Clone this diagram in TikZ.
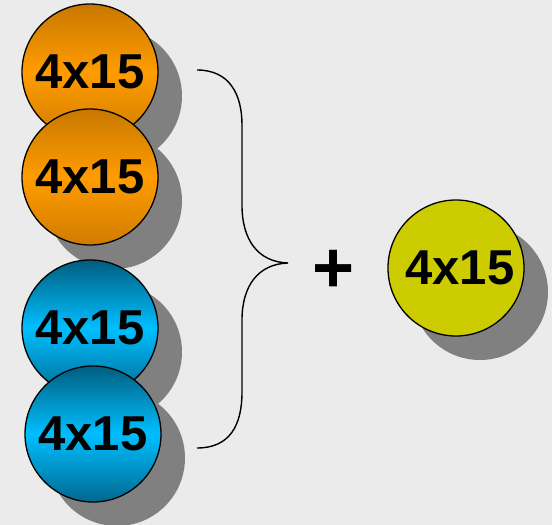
\documentclass[tikz,border=0pt]{standalone}
\usepackage{fontspec}
\setmainfont{Liberation Sans}
\usetikzlibrary{shadows}
\definecolor{bgc}{HTML}{EBEBEB}
\definecolor{shc}{HTML}{808080}
\definecolor{orT}{HTML}{C87800}
\definecolor{orM}{HTML}{FF9C00}
\definecolor{orB}{HTML}{D07C00}
\definecolor{blT}{HTML}{005E80}
\definecolor{blM}{HTML}{00BFFF}
\definecolor{blB}{HTML}{006890}
\definecolor{yel}{HTML}{CCCC00}
\tikzset{
  ball/.style={circle, draw=black, line width=1.3pt, minimum size=136pt, inner sep=0pt,
    font=\fontsize{49}{50}\selectfont\bfseries,
    drop shadow={shadow xshift=24pt, shadow yshift=-24pt, fill=shc, opacity=1}},
  orball/.style={ball, top color=orT, bottom color=orB, middle color=orM},
  blball/.style={ball, top color=blT, bottom color=blB, middle color=blM},
  yelball/.style={ball, fill=yel},
  bracestroke/.style={draw=black, line width=1.4pt},
}
\begin{document}
\begin{tikzpicture}[x=1pt,y=-1pt]
\fill[bgc] (0,0) rectangle (552,525);
\useasboundingbox (0,0) rectangle (552,525);
\node[orball] (o1) at (90,72) {4x15};
\node[orball] (o2) at (90,177) {4x15};
\node[blball] (b1) at (90,328) {4x15};
\node[blball] (b2) at (93,434) {4x15};
\node[yelball] (y1) at (456,268) {\hspace*{8pt}4x15};
\draw[bracestroke] (197,70) .. controls (230,70) and (242,95) .. (242,125) -- (242,205)
  .. controls (242,240) and (258,262) .. (288,263)
  .. controls (258,264) and (242,286) .. (242,320) -- (242,392)
  .. controls (242,425) and (230,448) .. (197,448);
\node[font=\fontsize{72}{72}\selectfont\bfseries, inner sep=0pt] (plus) at (333.5,271.5) {+};
\end{tikzpicture}
\end{document}
